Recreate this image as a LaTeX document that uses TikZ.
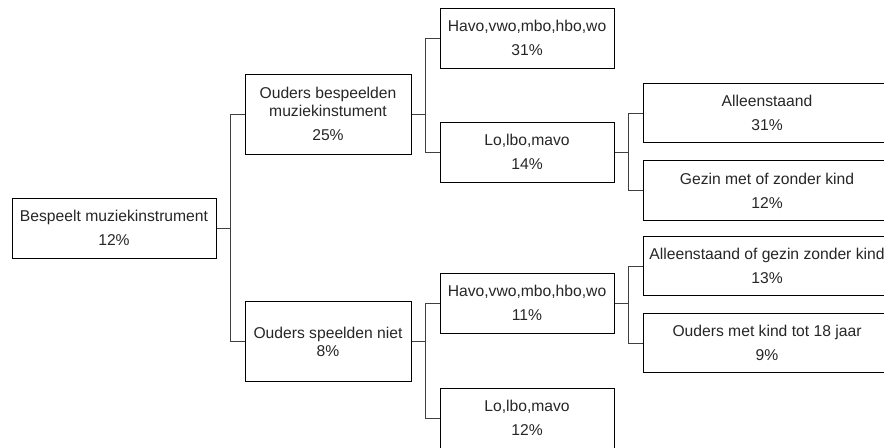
\documentclass[tikz,border=0pt]{standalone}
\usepackage{fontspec}
\setmainfont{Liberation Sans}
\usetikzlibrary{positioning}

\tikzset{
  box/.style={draw=black, line width=0.75pt, align=center, inner sep=0pt,
    text=black!85, font=\fontsize{11.75}{13.5}\selectfont},
  rootbox/.style={box, minimum width=153pt, minimum height=45pt},
  parentbox/.style={box, minimum width=124.5pt, minimum height=60pt},
  schoolbox/.style={box, minimum width=130.5pt, minimum height=45pt},
  homebox/.style={box, minimum width=186pt, minimum height=44.5pt},
  link/.style={draw=black!75, line width=0.75pt}
}

\begin{document}
\begin{tikzpicture}[x=0.75pt,y=-0.75pt]
  \useasboundingbox (0,0) rectangle (884,447);
  \clip (0,0) rectangle (884,447);
  \node[rootbox] (bespeelt) at (114,228) {Bespeelt muziekinstrument\\[4.5pt]12\%};
  \node[parentbox] (ouderswel) at (328,114) {Ouders bespeelden\\muziekinstument\\[4.5pt]25\%};
  \node[parentbox] (oudersniet) at (328,341.5) {Ouders speelden niet\\8\%};
  \node[schoolbox] (welhoog) at (527,38) {Havo,vwo,mbo,hbo,wo\\[4.5pt]31\%};
  \node[schoolbox] (wellaag) at (527,152) {Lo,lbo,mavo\\[4.5pt]14\%};
  \node[schoolbox] (niethoog) at (527,303) {Havo,vwo,mbo,hbo,wo\\[4.5pt]11\%};
  \node[schoolbox] (nietlaag) at (527,418) {Lo,lbo,mavo\\[4.5pt]12\%};
  \node[homebox] (alleen) at (767,113) {Alleenstaand\\[4.5pt]31\%};
  \node[homebox] (gezin) at (767,190.5) {Gezin met of zonder kind\\[4.5pt]12\%};
  \node[homebox] (zonderkind) at (767,266) {Alleenstaand of gezin zonder kind\\[4.5pt]13\%};
  \node[homebox] (metkind) at (767,343) {Ouders met kind tot 18 jaar\\[4.5pt]9\%};
  \foreach \src/\up/\down in {bespeelt/ouderswel/oudersniet,ouderswel/welhoog/wellaag,
      wellaag/alleen/gezin,oudersniet/niethoog/nietlaag,niethoog/zonderkind/metkind}
    {\draw[link] (\src.east) -- ++(14,0) coordinate (\src-fork) |- (\up.west);
     \draw[link] (\src-fork) |- (\down.west);}
\end{tikzpicture}
\end{document}
